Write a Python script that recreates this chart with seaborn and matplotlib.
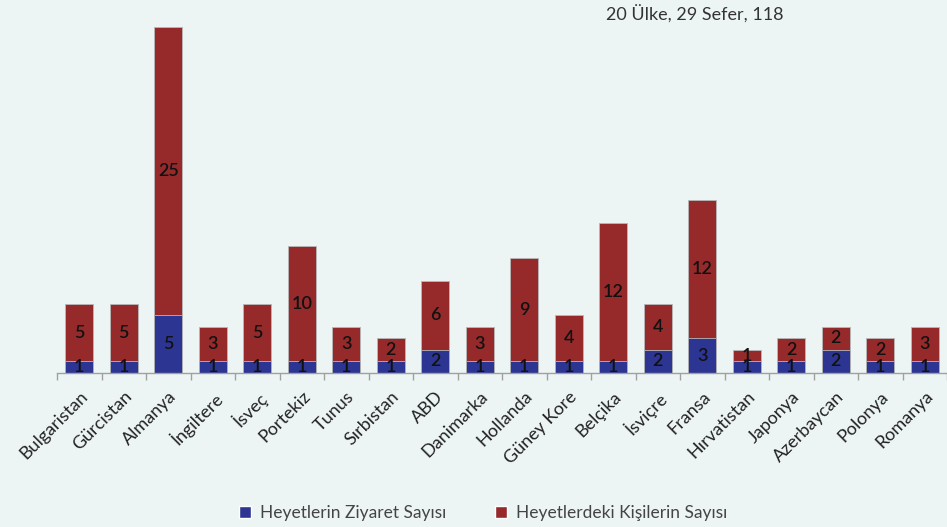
import matplotlib
matplotlib.use("Agg")
import matplotlib.pyplot as plt
import seaborn as sns
import pandas as pd
import numpy as np
from matplotlib.patches import Patch

countries = ["Bulgaristan", "Gürcistan", "Almanya", "İngiltere", "İsveç", "Portekiz",
             "Tunus", "Sırbistan", "ABD", "Danimarka", "Hollanda", "Güney Kore",
             "Belçika", "İsviçre", "Fransa", "Hırvatistan", "Japonya", "Azerbaycan",
             "Polonya", "Romanya"]
ziyaret = [1, 1, 5, 1, 1, 1, 1, 1, 2, 1, 1, 1, 1, 2, 3, 1, 1, 2, 1, 1]
kisiler = [5, 5, 25, 3, 5, 10, 3, 2, 6, 3, 9, 4, 12, 4, 12, 1, 2, 2, 2, 3]
series_names = ["Heyetlerin Ziyaret Sayısı", "Heyetlerdeki Kişilerin Sayısı"]
title_text = "20 Ülke, 29 Sefer, 118"

bg = "#EDF5F4"
blue = "#2C3592"
red = "#962A2B"

sns.set_theme(style="white")
plt.rcParams["font.family"] = ["Lato", "DejaVu Sans"]

fig = plt.figure(figsize=(9.47, 5.27), dpi=100, facecolor=bg)
ax = fig.add_axes([57 / 947, (527 - 373) / 527, 1 - 57 / 947, 352 / 527])
ax.set_facecolor(bg)

df = pd.DataFrame({"country": countries, "ziyaret": ziyaret, "kisiler": kisiler})
df["total"] = df["ziyaret"] + df["kisiler"]

sns.barplot(data=df, x="country", y="total", color=red, width=0.63, ax=ax,
            edgecolor="#B8B8B8", linewidth=0.6, saturation=1)
sns.barplot(data=df, x="country", y="ziyaret", color=blue, width=0.63, ax=ax,
            edgecolor="#B8B8B8", linewidth=0.6, saturation=1)

for i, (z, k) in enumerate(zip(ziyaret, kisiler)):
    ax.text(i, z / 2, str(z), ha="center", va="center", fontsize=13,
            color="#111111", fontweight="semibold")
    ax.text(i, z + k / 2, str(k), ha="center", va="center", fontsize=13,
            color="#111111", fontweight="semibold")

ax.set_xlim(-0.5, len(countries) - 0.5)
ax.set_ylim(0, 30.5)
ax.set_xlabel("")
ax.set_ylabel("")
ax.set_yticks([])
for s in ["top", "right", "left"]:
    ax.spines[s].set_visible(False)
ax.spines["bottom"].set_color("#A0A0A0")
ax.spines["bottom"].set_linewidth(1.0)

ax.set_xticks(np.arange(len(countries)))
ax.set_xticklabels(countries, rotation=45, ha="right", rotation_mode="anchor",
                   fontsize=13, color="#222222")
ax.tick_params(axis="x", length=0, pad=11)
# category separator ticks
ax.set_xticks(np.arange(len(countries) + 1) - 0.5, minor=True)
ax.tick_params(axis="x", which="minor", length=5, color="#A0A0A0", width=1, bottom=True)

fig.text(695 / 947, 1 - 14 / 527, title_text, ha="center", va="center",
         fontsize=13, color="#333333")

handles = [Patch(facecolor=blue), Patch(facecolor=red)]
fig.legend(handles, series_names, loc="center", bbox_to_anchor=(483 / 947, 1 - 513 / 527),
           ncol=2, frameon=False, fontsize=12.5, labelcolor="#444444",
           handlelength=0.7, handleheight=0.7, columnspacing=2.8, handletextpad=0.5)

fig.savefig("out.png", dpi=100, facecolor=bg)
